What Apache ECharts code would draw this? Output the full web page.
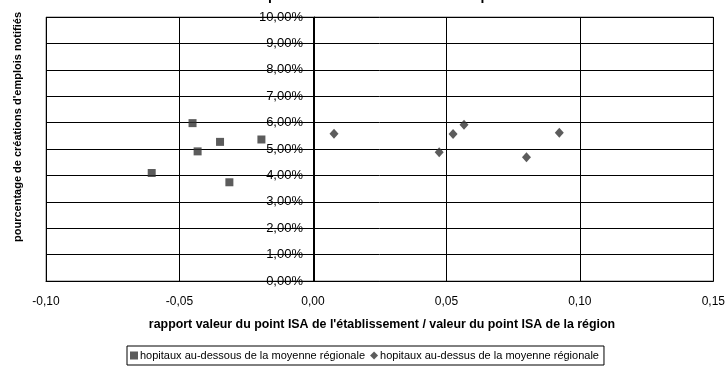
<!DOCTYPE html>
<html>
<head>
<meta charset="utf-8">
<script src="https://cdn.jsdelivr.net/npm/echarts@6/dist/echarts.min.js"></script>
<style>html,body{margin:0;padding:0;background:#fff;}#c{width:728px;height:372px;}</style>
</head>
<body>
<div id="c"></div>
<script>
// Data
var seriesNames = ['hopitaux au-dessous de la moyenne régionale', 'hopitaux au-dessus de la moyenne régionale'];
var belowX = [-0.0604, -0.0451, -0.0432, -0.0348, -0.0313, -0.0193];
var belowY = [4.09, 5.98, 4.91, 5.27, 3.74, 5.36];
var aboveX = [0.0079, 0.0473, 0.0525, 0.0566, 0.0800, 0.0923];
var aboveY = [5.58, 4.875, 5.57, 5.92, 4.69, 5.62];
var xTicks = {min: -0.10, max: 0.15, interval: 0.05};
var yTicks = {min: 0, max: 10, interval: 1};
var titleText = "Taux de créations d'emplois notifiés selon la valeur du point ISA";
var xTitle = "rapport valeur du point ISA de l'établissement / valeur du point ISA de la région";
var yTitle = "pourcentage de créations d'emplois notifiés";

function pairs(xs, ys) { return xs.map(function (x, i) { return [x, ys[i]]; }); }
var FONT = 'Liberation Sans, Arial, sans-serif';

var chart = echarts.init(document.getElementById('c'), null, {renderer: 'canvas'});
chart.setOption({
  animation: false,
  backgroundColor: '#fff',
  textStyle: {fontFamily: FONT},
  grid: {left: 46, right: 12, top: 17, bottom: 91, show: true, borderColor: '#808080', borderWidth: 1, containLabel: false},
  xAxis: {
    type: 'value', min: xTicks.min, max: xTicks.max, interval: xTicks.interval,
    axisLine: {show: true, onZero: false, lineStyle: {color: '#000', width: 1}},
    axisTick: {show: false},
    axisLabel: {color: '#000', fontSize: 12, fontFamily: FONT, margin: 15,
      formatter: function (v) { return v.toFixed(2).replace('.', ','); }},
    splitLine: {show: true, lineStyle: {color: '#000', width: 1}}
  },
  yAxis: {
    type: 'value', min: yTicks.min, max: yTicks.max, interval: yTicks.interval,
    offset: -268,
    axisLine: {show: true, onZero: false, lineStyle: {color: '#000', width: 1}},
    axisTick: {show: true, inside: false, length: 4, lineStyle: {color: '#000'}},
    axisLabel: {color: '#000', fontSize: 13, fontFamily: FONT, margin: 11,
      formatter: function (v) { return v.toFixed(2).replace('.', ',') + '%'; }},
    splitLine: {show: true, lineStyle: {color: '#000', width: 1}}
  },
  legend: {
    left: 127, top: 346, orient: 'horizontal',
    borderColor: '#000', borderWidth: 1, padding: [4, 5, 4, 3],
    itemWidth: 8, itemHeight: 8, itemGap: 5,
    textStyle: {fontSize: 11, color: '#000', fontFamily: FONT, padding: [0, 0, 0, -3]},
    data: [{name: seriesNames[0], icon: 'rect'}, {name: seriesNames[1], icon: 'diamond'}]
  },
  series: [
    {name: seriesNames[0], type: 'scatter', symbol: 'rect', symbolSize: 8,
     itemStyle: {color: '#333'}, data: pairs(belowX, belowY)},
    {name: seriesNames[1], type: 'scatter', symbol: 'diamond', symbolSize: [9, 10],
     itemStyle: {color: '#333'}, data: pairs(aboveX, aboveY)}
  ],
  graphic: [
    {type: 'text', x: 328, y: -11, style: {text: titleText, textAlign: 'center', textVerticalAlign: 'top', font: 'bold 14px ' + FONT, fill: '#000'}},
    {type: 'text', x: 382, y: 319, style: {text: xTitle, textAlign: 'center', textVerticalAlign: 'top', font: 'bold 12.4px ' + FONT, fill: '#000'}},
    {type: 'text', x: 18, y: 127, rotation: Math.PI / 2, style: {text: yTitle, textAlign: 'center', textVerticalAlign: 'middle', font: 'bold 11px ' + FONT, fill: '#000'}}
  ]
});
</script>
</body>
</html>
